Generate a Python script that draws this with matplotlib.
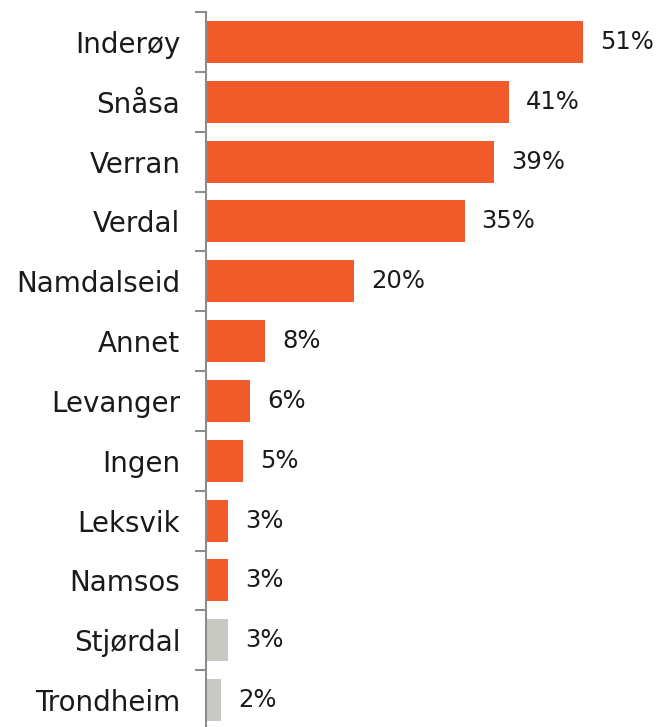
import matplotlib
matplotlib.use("Agg")
import matplotlib.pyplot as plt
import numpy as np

categories = ["Inderøy", "Snåsa", "Verran", "Verdal", "Namdalseid", "Annet",
              "Levanger", "Ingen", "Leksvik", "Namsos", "Stjørdal", "Trondheim"]
values = [51, 41, 39, 35, 20, 8, 6, 5, 3, 3, 3, 2]
labels = ["51%", "41%", "39%", "35%", "20%", "8%", "6%", "5%", "3%", "3%", "3%", "2%"]
orange = "#F15A29"
grey = "#C9C9C3"
colors = [orange] * 10 + [grey] * 2

plt.rcParams['font.family'] = ['DejaVu Sans']

fig = plt.figure(figsize=(6.56, 7.27), dpi=100)
ax = fig.add_axes([206/656, -3/727, 450/656, 718/727])

y = np.arange(len(categories))
ax.barh(y, values, height=0.7, color=colors)
ax.set_ylim(len(categories) - 0.5, -0.5)
ax.set_xlim(0, 450/7.39)

for yi, v, lab in zip(y, values, labels):
    ax.text(v + 17/7.39, yi, lab, va='center', ha='left', fontsize=17.5, color='#1a1a1a')

ax.set_yticks(y)
ax.set_yticklabels(categories, fontsize=20, color='#1a1a1a')
ax.tick_params(axis='y', which='major', length=0, pad=18.5)
ax.set_yticks(np.arange(-0.5, len(categories) + 0.5, 1), minor=True)
ax.tick_params(axis='y', which='minor', length=8, width=1.5, color='#8c8c8c')
ax.set_xticks([])
for s in ['top', 'right', 'bottom']:
    ax.spines[s].set_visible(False)
ax.spines['left'].set_color('#8c8c8c')
ax.spines['left'].set_linewidth(1.5)

fig.savefig("out.png", dpi=100)
